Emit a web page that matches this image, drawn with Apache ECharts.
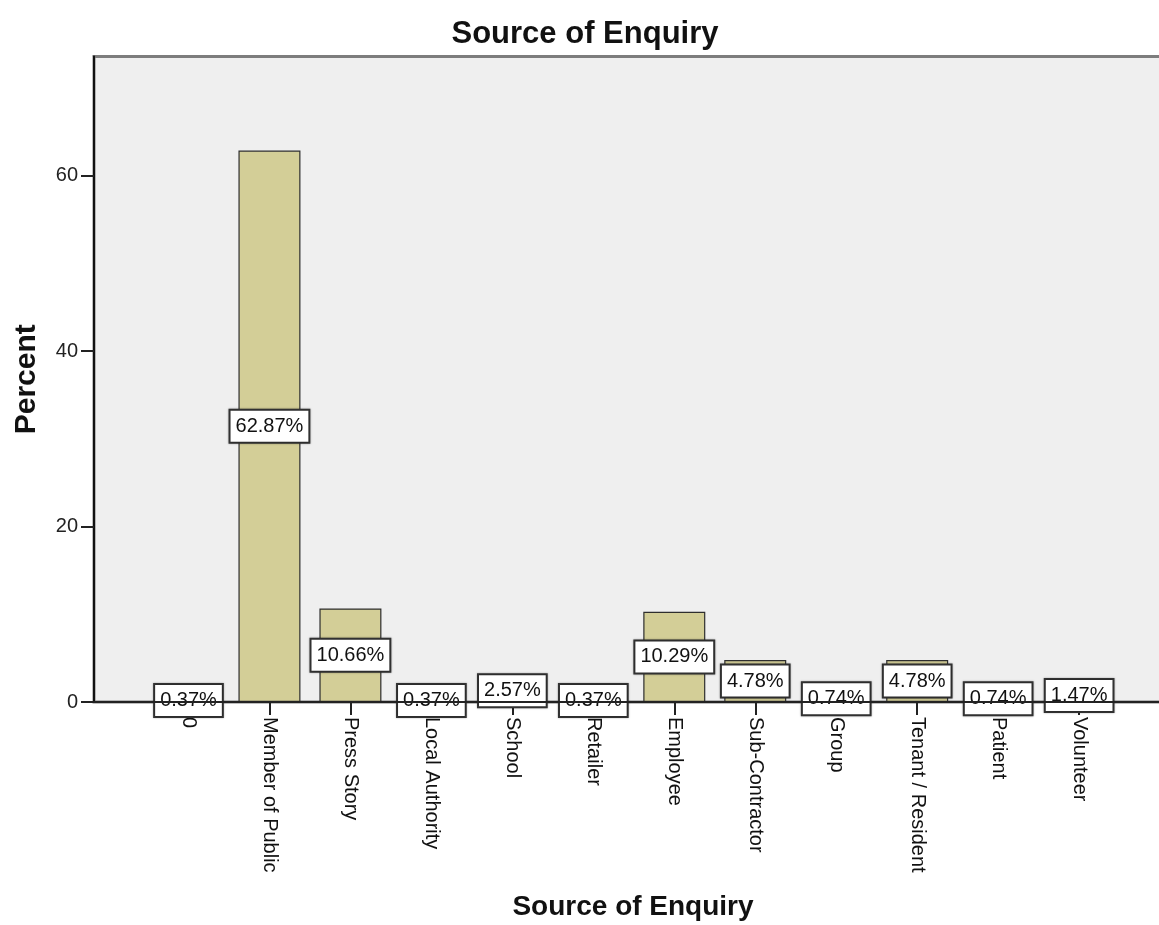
<!DOCTYPE html>
<html>
<head>
<meta charset="utf-8">
<title>Source of Enquiry</title>
<script src="https://cdn.jsdelivr.net/npm/echarts@6/dist/echarts.min.js"></script>
<style>
  html, body { margin: 0; padding: 0; background: #ffffff; }
  #chart { width: 1159px; height: 925px; }
</style>
</head>
<body>
<div id="chart"></div>
<script>
// Enquiry sources and their share of all enquiries (%)
const categories = ['0', 'Member of Public', 'Press Story', 'Local Authority', 'School', 'Retailer',
  'Employee', 'Sub-Contractor', 'Group', 'Tenant / Resident', 'Patient', 'Volunteer'];
const percents = [0.37, 62.87, 10.66, 0.37, 2.57, 0.37, 10.29, 4.78, 0.74, 4.78, 0.74, 1.47];
const yTicks = [0, 20, 40, 60];
const yMax = 73.6;

const FONT = '"Liberation Sans", Arial, sans-serif';

// each category sits at its index on a numeric x axis, so the plot frame can
// carry extra room on the left and run past the right edge
const slots = categories.map((c, i) => i);
const barData = slots.map(i => [i, percents[i]]);
const xMin = -1.167;
const xMax = 12.11;

const chart = echarts.init(document.getElementById('chart'), null, { renderer: 'canvas' });

chart.setOption({
  animation: false,
  backgroundColor: '#ffffff',
  title: {
    text: 'Source of Enquiry',
    left: 580,
    top: 14,
    textAlign: 'center',
    textStyle: { fontFamily: FONT, fontSize: 31, fontWeight: 'bold', color: '#111' }
  },
  grid: {
    left: 94, right: -10, top: 56.5, bottom: 223,
    outerBoundsMode: 'none',
    containLabel: false,
    show: true, backgroundColor: '#efefef',
    borderColor: '#7d7d7d', borderWidth: 3
  },
  xAxis: [
    {
      type: 'value', min: xMin, max: xMax,
      position: 'bottom',
      name: 'Source of Enquiry',
      nameLocation: 'middle',
      nameGap: 191,
      nameTextStyle: { fontFamily: FONT, fontSize: 28, fontWeight: 'bold', color: '#111', padding: [0, 0, 0, 3] },
      axisLine: { show: false, onZero: false },
      axisTick: { show: true, length: 13, customValues: slots, lineStyle: { color: '#222', width: 2 } },
      axisLabel: {
        customValues: slots,
        formatter: v => categories[Math.round(v)] || '',
        rotate: -90, margin: 15,
        fontFamily: FONT, fontSize: 20, color: '#111'
      },
      splitLine: { show: false }
    },
    {
      // baseline drawn above the value boxes
      type: 'value', min: xMin, max: xMax,
      position: 'bottom',
      z: 10,
      axisLine: { show: true, onZero: false, lineStyle: { color: '#222', width: 2 } },
      axisTick: { show: false },
      axisLabel: { show: false },
      splitLine: { show: false }
    }
  ],
  yAxis: {
    type: 'value', min: 0, max: yMax,
    name: 'Percent',
    nameLocation: 'middle',
    nameGap: 52,
    nameTextStyle: { fontFamily: FONT, fontSize: 30, fontWeight: 'bold', color: '#111' },
    axisLine: { show: true, onZero: false, lineStyle: { color: '#111', width: 2 } },
    axisTick: { show: true, length: 13, customValues: yTicks, lineStyle: { color: '#222', width: 2 } },
    axisLabel: {
      customValues: yTicks, margin: 16,
      fontFamily: FONT, fontSize: 20, color: '#222'
    },
    splitLine: { show: false }
  },
  series: [
    {
      type: 'bar',
      xAxisIndex: 0,
      data: barData,
      barWidth: 62,
      itemStyle: { color: '#d3ce97', borderColor: '#2e2e2e', borderWidth: 1.2 },
      label: {
        show: true,
        position: 'inside',
        formatter: p => p.value[1].toFixed(2) + '%',
        fontFamily: FONT, fontSize: 20, color: '#111',
        backgroundColor: '#ffffff',
        borderColor: '#333', borderWidth: 2,
        padding: [6, 5, 5, 5],
        shadowColor: 'rgba(0,0,0,0.35)', shadowBlur: 2, shadowOffsetX: 0, shadowOffsetY: 0
      }
    }
  ]
});
</script>
</body>
</html>
